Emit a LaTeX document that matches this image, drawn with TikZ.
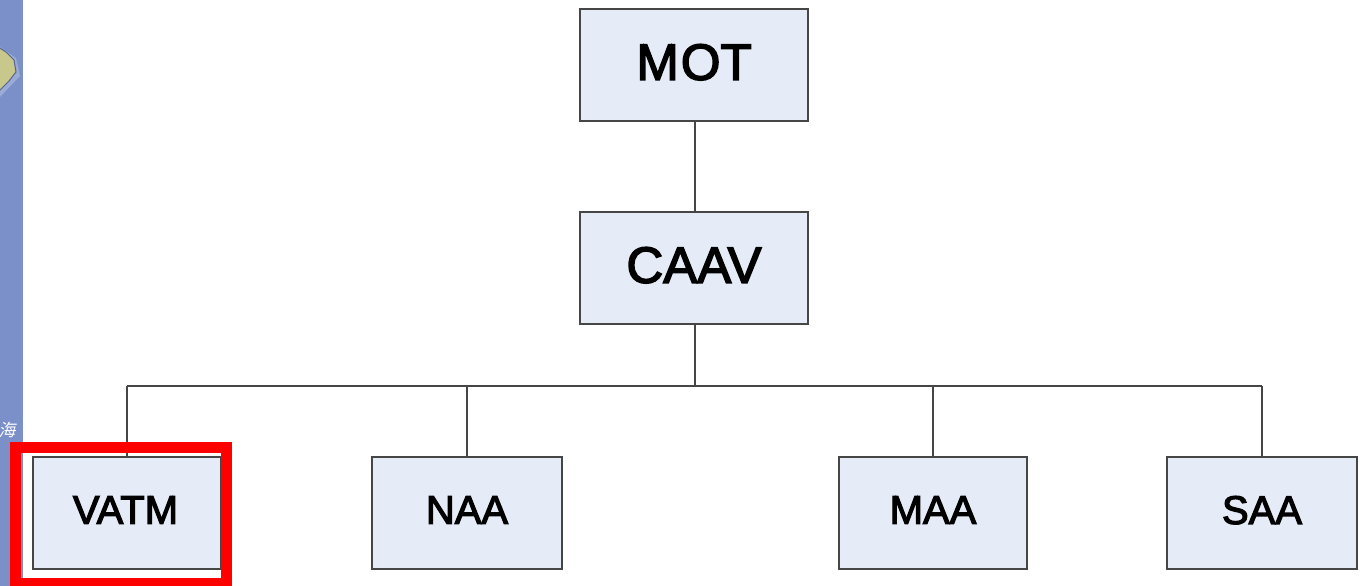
\documentclass[tikz,border=0pt]{standalone}
\usepackage{fontspec}
\setmainfont{Liberation Sans}
\newfontfamily\orgfont[FakeBold=3]{Liberation Sans}
\newfontfamily\cjkfont[FakeSlant=0.2]{Noto Sans CJK SC}
\newlength{\du}
\setlength{\du}{1pt}
\definecolor{stripcolor}{RGB}{123,143,200}
\definecolor{boxcolor}{RGB}{230,236,247}
\definecolor{linecolor}{RGB}{70,70,70}
\definecolor{islandcolor}{RGB}{200,200,140}
\definecolor{framecolor}{RGB}{255,0,0}
\tikzset{
  orgbox/.style={draw=linecolor,fill=boxcolor,line width=2\du,inner sep=0pt,minimum height=112\du,text depth=6\du},
  topbox/.style={orgbox,minimum width=228\du,font=\orgfont\fontsize{51}{51}\selectfont},
  lowbox/.style={orgbox,minimum width=188\du,font=\orgfont\fontsize{40}{40}\selectfont},
  widebox/.style={lowbox,minimum width=190\du},
  orgline/.style={draw=linecolor,line width=2\du},
}
\begin{document}
\begin{tikzpicture}
\pgftransformxscale{1.000000}
\pgftransformyscale{-1.000000}
\useasboundingbox (0\du,0\du) rectangle (1363\du,586\du);
% side strip
\fill[stripcolor] (0\du,0\du) rectangle (23\du,586\du);
\fill[stripcolor!75!white] (0\du,97\du)--(20\du,76\du)--(16\du,58\du)--(0\du,47\du)--cycle;
\fill[islandcolor,draw=stripcolor!70!black,line width=1\du] (-2\du,47\du)--(6\du,52\du)--(14\du,60\du)--(16\du,72\du)--(9\du,81\du)--(-2\du,92\du)--cycle;
\node[text=white,font=\cjkfont\fontsize{17}{17}\selectfont,inner sep=0pt] (hai) at (7\du,430\du) {海};
% boxes
\node[topbox] (mot) at (694\du,65\du) {M\kern2\du OT};
\node[topbox] (caav) at (694\du,268\du) {CAAV};
\node[lowbox] (vatm) at (127\du,513\du) {VATM\kern3\du};
\node[widebox] (naa) at (467\du,513\du) {NAA};
\node[lowbox] (maa) at (933\du,513\du) {MAA};
\node[widebox] (saa) at (1262\du,513\du) {SAA};
% connectors
\coordinate (bus) at (695\du,386\du);
\draw[orgline] (mot.south -| bus)--(caav.north -| bus);
\draw[orgline] (caav.south -| bus)--(bus);
\draw[orgline] (bus -| vatm.north)--(bus -| saa.north);
\draw[orgline] (bus -| vatm.north)--(vatm.north);
\draw[orgline] (bus -| naa.north)--(naa.north);
\draw[orgline] (bus -| maa.north)--(maa.north);
\draw[orgline] (bus -| saa.north)--(saa.north);
% red frame
\draw[framecolor,line width=11\du] (15.5\du,447.5\du) rectangle (226.5\du,583.5\du);
\end{tikzpicture}
\end{document}
